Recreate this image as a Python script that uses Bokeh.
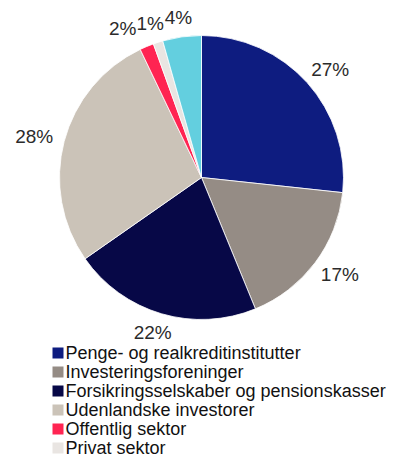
import math
from bokeh.plotting import figure
from bokeh.models import Range1d, ColumnDataSource
from bokeh.core.properties import value
from bokeh.embed import file_html
from bokeh.resources import INLINE

# ---- data ----
categories = [
    "Penge- og realkreditinstitutter",
    "Investeringsforeninger",
    "Forsikringsselskaber og pensionskasser",
    "Udenlandske investorer",
    "Offentlig sektor",
    "Privat sektor",
    "Øvrige",
]
shares = [26.7, 17.1, 21.5, 27.6, 1.6, 1.1, 4.4]
colors = ["#0E1C80", "#958C85", "#070847", "#CBC3B8", "#FF2452", "#E9E5E2", "#63CFDF"]
legend_rows_visible = 6  # the reference image cuts the legend after six rows

W, H = 401, 458
FONT = "Liberation Sans"

p = figure(width=W, height=H, output_backend="svg", toolbar_location=None,
           x_range=Range1d(0, W), y_range=Range1d(0, H), min_border=0)
p.axis.visible = False
p.grid.visible = False
p.outline_line_color = None
p.background_fill_color = "white"
p.border_fill_color = "white"

cx, cy, R = 201, 281, 142
total = sum(shares)
starts, ends, mids = [], [], []
cum = 0.0
for s in shares:
    a0 = cum / total * 2 * math.pi
    cum += s
    a1 = cum / total * 2 * math.pi
    starts.append(math.pi / 2 - a1)
    ends.append(math.pi / 2 - a0)
    mids.append((a0 + a1) / 2)

src = ColumnDataSource(dict(start=starts, end=ends, color=colors))
p.wedge(x=cx, y=cy, radius=R, start_angle="start", end_angle="end",
        fill_color="color", line_color="white", line_width=0.8, source=src)

# ---- percentage labels (outside end) ----
labels = [f"{round(s)}%" for s in shares]
fs = 19
lx, ly, lw = [], [], []
for lab, th in zip(labels, mids):
    w = 10.5 * (len(lab) - 1) + 17
    d = R + 12
    lx.append(cx + (d + w / 2) * math.sin(th))
    ly.append(cy + (d + 8) * math.cos(th))
    lw.append(w)

# simple collision resolution: push overlapping labels leftwards
order = sorted(range(len(labels)), key=lambda i: -lx[i])
for k in range(1, len(order)):
    i, j = order[k], order[k - 1]
    if abs(ly[i] - ly[j]) < 16:
        max_right = lx[j] - lw[j] / 2
        if lx[i] + lw[i] / 2 > max_right:
            lx[i] = max_right - lw[i] / 2

p.text(x=lx, y=ly, text=labels, text_font=value(FONT), text_font_size=f"{fs}px",
       text_color="#2b2b2b", text_align="center", text_baseline="middle")

# ---- legend ----
n = legend_rows_visible
leg_y = [105.5 - 19 * i for i in range(n)]
p.rect(x=[57.5] * n, y=leg_y, width=11, height=11, fill_color=colors[:n], line_color=None)
p.text(x=[65] * n, y=leg_y, text=categories[:n], text_font=value(FONT),
       text_font_size="18px", text_color="#111111", text_align="left", text_baseline="middle")

open("out.html", "w").write(file_html(p, INLINE))
